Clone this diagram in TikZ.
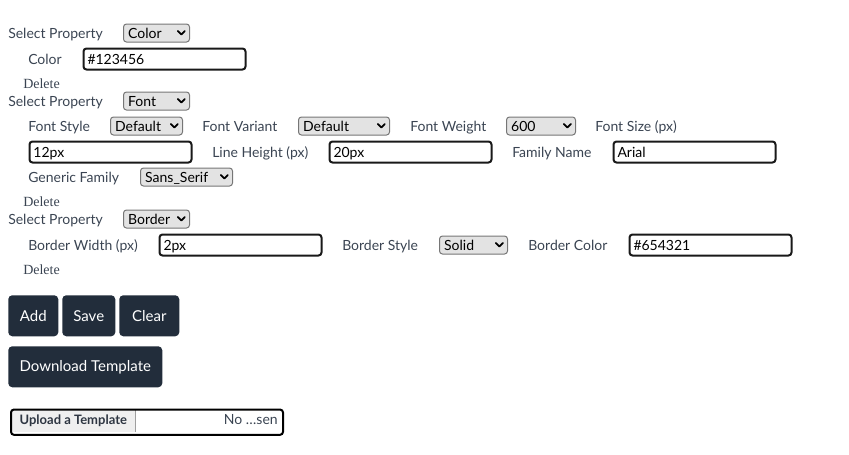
\documentclass[tikz,border=0pt]{standalone}
\usepackage{fontspec}
\setmainfont{Lato}
\newfontfamily\delfont{Liberation Serif}
\definecolor{labelc}{HTML}{3A4452}
\definecolor{selfill}{HTML}{E3E3E3}
\definecolor{selline}{HTML}{767676}
\definecolor{btnfill}{HTML}{222D3B}
\definecolor{upfill}{HTML}{EFEFEF}
\tikzset{
  lbl/.style={anchor=base west, inner sep=0pt, text=labelc, font=\fontsize{10.5pt}{12pt}\selectfont},
  del/.style={anchor=base west, inner sep=0pt, text=labelc, font=\delfont\fontsize{10.5pt}{12pt}\selectfont},
  selbox/.style={draw=selline, fill=selfill, line width=0.75pt, rounded corners=2.25pt, anchor=west,
    inner xsep=3.5pt, inner ysep=0pt, minimum height=13.5pt, text height=7.5pt, text depth=0pt,
    align=left, text width=#1*0.75pt-7pt, font=\fontsize{10.5pt}{12pt}\selectfont},
  inbox/.style={draw=black!90, fill=white, line width=1.5pt, rounded corners=2.25pt, anchor=west,
    inner xsep=3pt, inner ysep=0pt, minimum height=15.75pt, text height=7.5pt, text depth=0pt,
    align=left, text width=#1*0.75pt-6pt, font=\fontsize{10.5pt}{12pt}\selectfont},
  btn/.style={fill=btnfill, text=white, rounded corners=3pt, anchor=north west, inner sep=0pt,
    minimum height=30.75pt, font=\fontsize{11.25pt}{13pt}\selectfont},
  chev/.pic={\draw[line width=1.4pt, line cap=round, line join=round] (-3.5,-2) -- (0,1.5) -- (3.5,-2);}
}
\begin{document}
\begin{tikzpicture}[x=0.75pt, y=-0.75pt]
  \useasboundingbox (0,0) rectangle (849,454);
  \node[lbl] (sp1) at (8,38) {Select Property};
  \node[selbox=66] (selcolor) at (123,33) {Color};
  \pic at ([xshift=-6.5pt]selcolor.east) {chev};
  \node[lbl] (lcolor) at (28,64) {Color};
  \node[inbox=162] (incolor) at (82.5,59) {\#123456};
  \node[del] (del1) at (23,88) {Delete};
  \node[lbl] (sp2) at (8,106) {Select Property};
  \node[selbox=66] (selfont) at (123,101) {Font};
  \pic at ([xshift=-6.5pt]selfont.east) {chev};
  \node[lbl] (lfstyle) at (28,131) {Font Style};
  \node[selbox=72] (selfstyle) at (110,126) {Default};
  \pic at ([xshift=-6.5pt]selfstyle.east) {chev};
  \node[lbl] (lfvariant) at (202,131) {Font Variant};
  \node[selbox=91] (selfvariant) at (298,126) {Default};
  \pic at ([xshift=-6.5pt]selfvariant.east) {chev};
  \node[lbl] (lfweight) at (410,131) {Font Weight};
  \node[selbox=69] (selfweight) at (506,126) {600};
  \pic at ([xshift=-6.5pt]selfweight.east) {chev};
  \node[lbl] (lfsize) at (595,131) {Font Size (px)};
  \node[inbox=162] (infsize) at (28.5,152) {12px};
  \node[lbl] (llheight) at (212,157) {Line Height (px)};
  \node[inbox=162] (inlheight) at (328.5,152) {20px};
  \node[lbl] (lfamily) at (512,157) {Family Name};
  \node[inbox=162] (infamily) at (612.5,152) {Arial};
  \node[lbl] (lgeneric) at (28,182) {Generic Family};
  \node[selbox=92] (selgeneric) at (140,177) {Sans\_Serif};
  \pic at ([xshift=-6.5pt]selgeneric.east) {chev};
  \node[del] (del2) at (23,206) {Delete};
  \node[lbl] (sp3) at (8,224) {Select Property};
  \node[selbox=66] (selborder) at (123,219) {Border};
  \pic at ([xshift=-6.5pt]selborder.east) {chev};
  \node[lbl] (lbwidth) at (28,250) {Border Width (px)};
  \node[inbox=162] (inbwidth) at (158.5,245) {2px};
  \node[lbl] (lbstyle) at (342,250) {Border Style};
  \node[selbox=68] (selbstyle) at (439,245) {Solid};
  \pic at ([xshift=-6.5pt]selbstyle.east) {chev};
  \node[lbl] (lbcolor) at (528,250) {Border Color};
  \node[inbox=162] (inbcolor) at (628.5,245) {\#654321};
  \node[del] (del3) at (23,274) {Delete};
  \node[btn, minimum width=37.5pt] (badd) at (8,295) {Add};
  \node[btn, minimum width=39.75pt] (bsave) at (62,295) {Save};
  \node[btn, minimum width=45pt] (bclear) at (119,295) {Clear};
  \node[btn, minimum width=115.5pt] (bdownload) at (8,346) {Download Template};
  \node[fill=upfill, anchor=west, inner sep=0pt, minimum width=93pt, minimum height=16.5pt,
    font=\bfseries\fontsize{9.75pt}{11pt}\selectfont, text=labelc!80!black] (upbtn) at (11,421) {Upload a Template};
  \draw[selline!70] (upbtn.north east) -- (upbtn.south east);
  \node[anchor=base east, inner sep=0pt, text=labelc, font=\fontsize{10.5pt}{12pt}\selectfont] (nofile) at (278,424) {No …sen};
  \node[draw=black, line width=1.5pt, rounded corners=2.25pt, anchor=north west, inner sep=0pt,
    minimum width=204pt, minimum height=19pt] (upload) at (10,408.5) {};
\end{tikzpicture}
\end{document}
